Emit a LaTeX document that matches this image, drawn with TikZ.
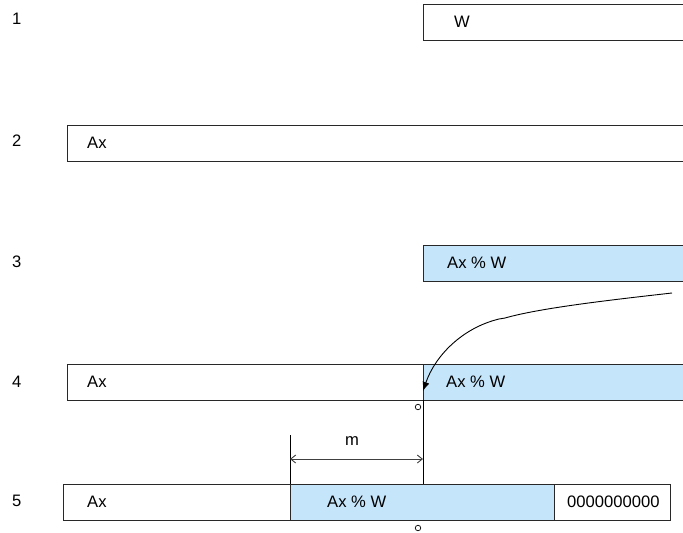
\documentclass[tikz,border=0pt]{standalone}
\usepackage{fontspec}
\setmainfont{Liberation Sans}
\usetikzlibrary{arrows.meta}
\definecolor{cellblue}{RGB}{197,229,251}
\definecolor{cellline}{RGB}{40,40,40}
\begin{document}
\begin{tikzpicture}[x=1pt,y=-1pt,
  cell/.style={draw=cellline, line width=0.9pt, rectangle, anchor=north west,
    minimum height=36pt, inner sep=0pt, outer sep=0pt},
  bluecell/.style={cell, fill=cellblue},
  txt/.style={anchor=west, inner sep=0pt, font=\fontsize{16.6}{20}\selectfont},
  rowno/.style={txt},
  curve/.style={draw=black, line width=0.9pt},
  dim/.style={draw=black!75, line width=0.9pt, {Straight Barb[length=5pt,width=8pt]}-{Straight Barb[length=5pt,width=8pt]}},
  guide/.style={draw=black, line width=0.9pt},
  mark circle/.style={circle, draw=black, line width=0.7pt, fill=white, minimum size=5.5pt, inner sep=0pt}
]
\useasboundingbox (0,0) rectangle (683,533);
\clip (0,0) rectangle (683,533);

% row numbers
\node[rowno] (n1) at (12,19)  {1};
\node[rowno] (n2) at (12,141) {2};
\node[rowno] (n3) at (12,262) {3};
\node[rowno] (n4) at (12,382) {4};
\node[rowno] (n5) at (12,501) {5};

% row 1
\node[cell, minimum width=270pt] (r1) at (423,4) {};
\node[txt] (t1) at ([xshift=31pt]r1.west) {W};

% row 2
\node[cell, minimum width=630pt] (r2) at (67,125) {};
\node[txt] (t2) at ([xshift=20pt]r2.west) {Ax};

% row 3
\node[bluecell, minimum width=270pt] (r3) at (423,245) {};
\node[txt] (t3) at ([xshift=24pt]r3.west) {Ax \% W};

% row 4
\node[cell, minimum width=356pt] (r4w) at (67,364) {};
\node[bluecell, minimum width=270pt] (r4b) at (423,364) {};
\node[txt] (t4a) at ([xshift=20pt]r4w.west) {Ax};
\node[txt] (t4b) at ([xshift=23pt]r4b.west) {Ax \% W};

% row 5
\node[cell, minimum width=227pt] (r5w) at (63,484) {};
\node[bluecell, minimum width=264pt] (r5b) at (290,484) {};
\node[cell, minimum width=116pt] (r5z) at (554,484) {};
\node[txt] (t5a) at ([xshift=24pt]r5w.west) {Ax};
\node[txt] (t5b) at ([xshift=37pt]r5b.west) {Ax \% W};
\node[txt] (t5c) at ([xshift=13pt]r5z.west) {0000000000};

% curved pointer onto the row 4 boundary
\coordinate (cs) at (672,293);
\coordinate (ce) at (423,391);
\draw[curve, -{Latex[length=9pt,width=7pt]}] (cs) .. controls (610,300) and (540,308) .. (505,318)
  -- (499,319) .. controls (462,328) and (435,356) .. (ce);

% guide lines
\draw[guide] (r4b.south west) -- (r4b.south west |- r5b.north);
\coordinate (mt) at (290,435);
\draw[guide] (mt) -- (r5b.north west);

% dimension m
\coordinate (ma) at (290,459);
\coordinate (mb) at (423,459);
\draw[dim] (ma) -- (mb);
\node[txt, anchor=center] (mlab) at (352,441) {m};

% small markers
\node[mark circle] (c1) at (418,407) {};
\node[mark circle] (c2) at (418,528) {};
\end{tikzpicture}
\end{document}
